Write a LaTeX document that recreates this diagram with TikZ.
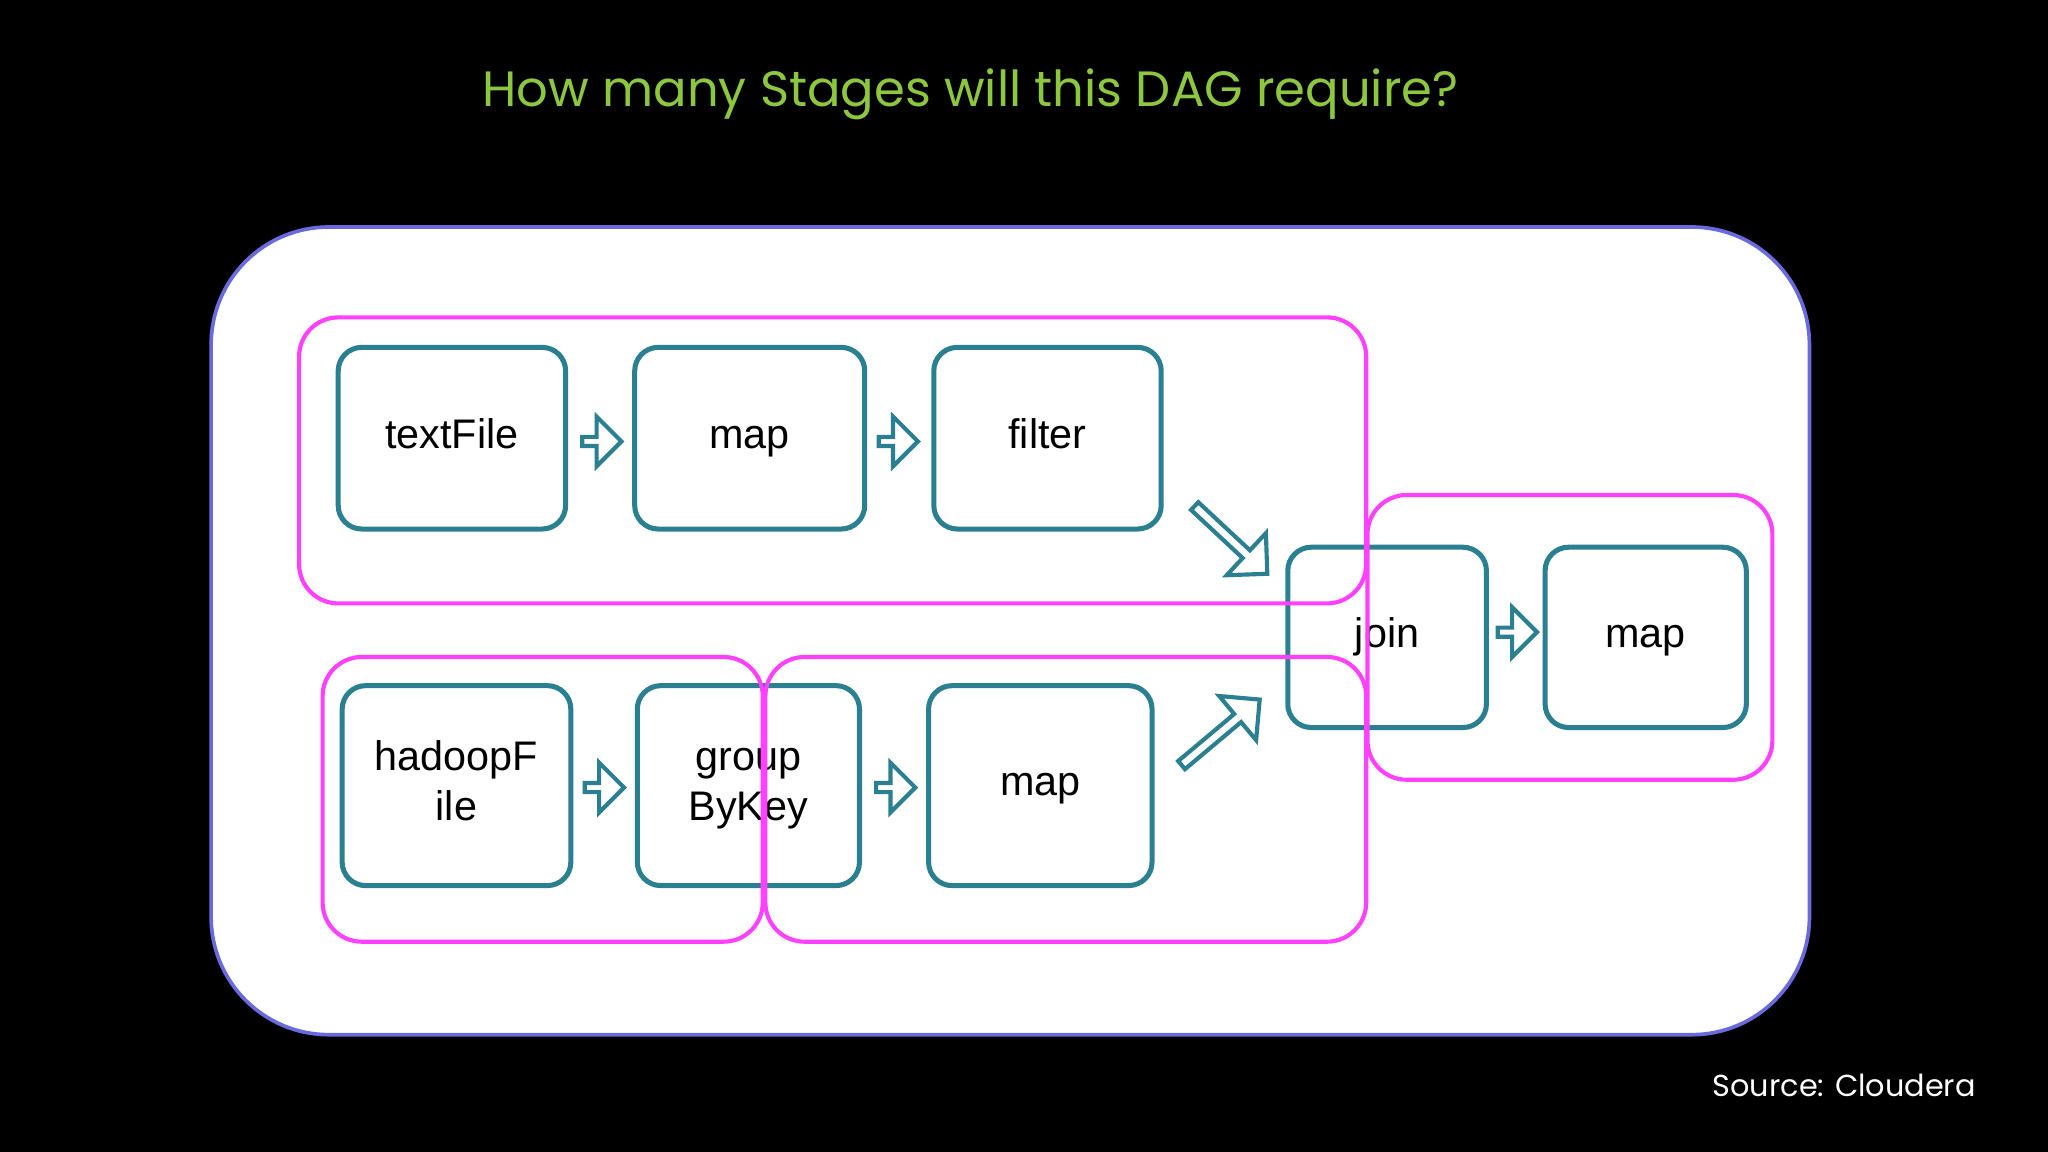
\documentclass[tikz,border=0pt]{standalone}
\usepackage{fontspec}
\setmainfont{Liberation Sans}
\newfontfamily\titlefont{Poppins}
\usetikzlibrary{shapes.arrows}
\definecolor{teal2}{HTML}{2A7F90}
\definecolor{mag}{HTML}{FF40FF}
\definecolor{ttl}{HTML}{8DC63F}
\definecolor{frame}{HTML}{6A6ADF}
\begin{document}
\begin{tikzpicture}[x=0.01cm,y=-0.01cm,
 box/.style={draw=teal2,line width=1.1pt,rounded corners=0.18cm,fill=white,minimum height=1.39cm,font=\fontsize{9}{11}\selectfont,align=center,inner sep=0pt},
 stage/.style={draw=mag,line width=0.9pt,rounded corners=0.3cm},
 barrow/.style={single arrow,draw=teal2,fill=white,line width=0.9pt,minimum width=0.38cm,single arrow head extend=0.07cm,inner sep=0pt,minimum height=0.3cm,shape border rotate=#1},
 barrow/.default=0]
\fill[black] (0,0) rectangle (1568,882);
\useasboundingbox (0,0) rectangle (1568,882);
\node[text=ttl,font=\titlefont\fontsize{10.8}{13}\selectfont] (title) at (743,72) {How many Stages will this DAG require?};
\node[draw=frame,line width=0.8pt,fill=white,rounded corners=0.9cm,minimum width=12.23cm,minimum height=6.18cm] (panel) at (773.5,483) {};
\node[box,minimum width=1.74cm] (tf) at (346,335.5) {\strut textFile};
\node[box,minimum width=1.76cm] (m1) at (574,335.5) {\strut map};
\node[box,minimum width=1.74cm] (fi) at (802,335.5) {\strut filter};
\node[box,minimum width=1.75cm,minimum height=1.53cm] (hf) at (349.5,601.5) {\strut hadoopF\\\strut ile};
\node[box,minimum width=1.70cm,minimum height=1.53cm] (gb) at (573,601.5) {\strut group\\\strut ByKey};
\node[box,minimum width=1.71cm,minimum height=1.53cm] (m2) at (796.5,601.5) {\strut map};
\node[box,minimum width=1.52cm,minimum height=1.38cm] (jn) at (1062,488) {\strut join};
\node[box,minimum width=1.54cm,minimum height=1.38cm] (m3) at (1260,488) {\strut map};
\node[barrow] (a1) at (459,338) {};
\node[barrow] (a2) at (686,338) {};
\node[barrow] (a3) at (461,603) {};
\node[barrow] (a4) at (684,603) {};
\node[barrow] (a5) at (1160,484) {};
\node[barrow=0,rotate=-43,minimum height=0.76cm,minimum width=0.44cm] (a6) at (941,412) {};
\node[barrow=0,rotate=40,minimum height=0.78cm,minimum width=0.44cm] (a7) at (933,562) {};
\draw[stage] (229,243) rectangle (1046,462);
\draw[stage] (247,503) rectangle (584,721);
\draw[stage] (586,503) rectangle (1046,721);
\draw[stage] (1047,379) rectangle (1357,597);
\node[text=white,font=\titlefont\fontsize{6.6}{8}\selectfont] (src) at (1412,831) {Source: Cloudera};
\end{tikzpicture}
\end{document}
